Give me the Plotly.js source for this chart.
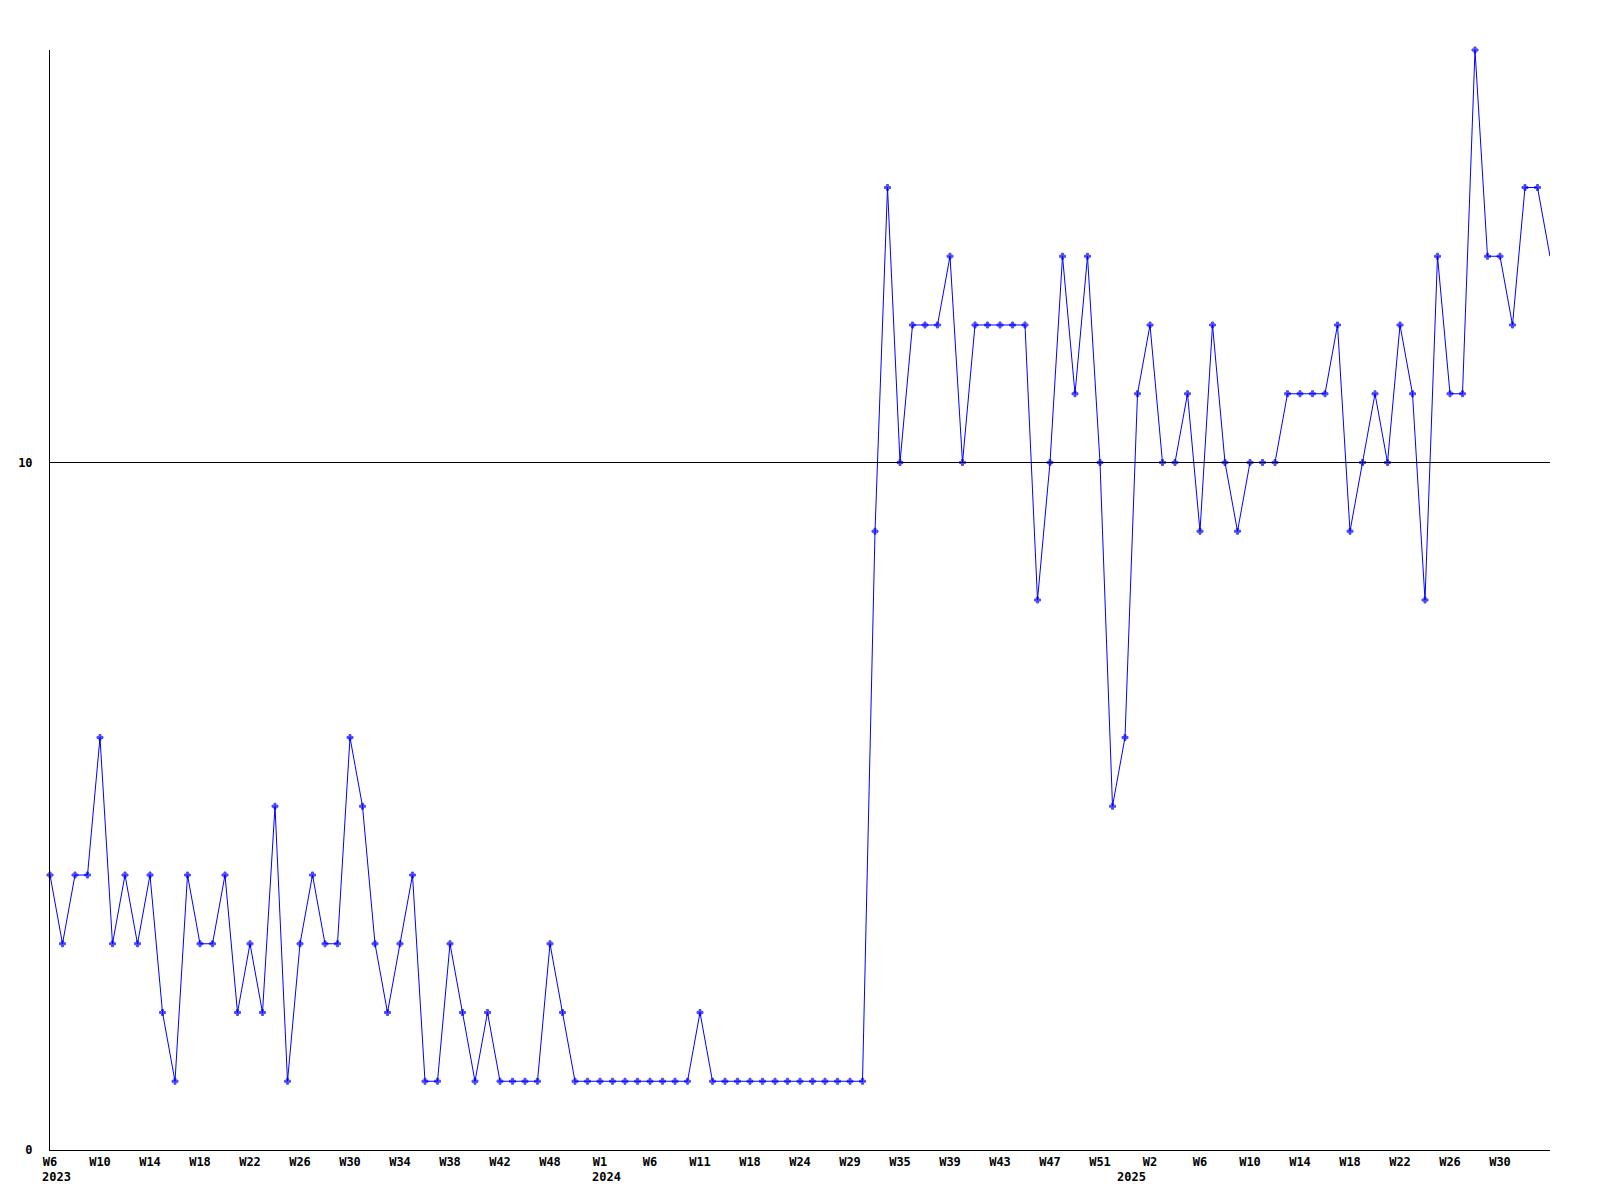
<!DOCTYPE html>
<html>
<head>
<meta charset="utf-8">
<script src="https://cdn.plot.ly/plotly-3.0.1.min.js"></script>
<style>html,body{margin:0;padding:0;background:#fff;}#chart{width:1600px;height:1200px;}</style>
</head>
<body>
<div id="chart"></div>
<script>
// weekly values, 2023 W6 onward
const values = [
  4,3,4,4,6,3,4,3,4,2,
  1,4,3,3,4,2,3,2,5,1,
  3,4,3,3,6,5,3,2,3,4,
  1,1,3,2,1,2,1,1,1,1,
  3,2,1,1,1,1,1,1,1,1,
  1,1,2,1,1,1,1,1,1,1,
  1,1,1,1,1,1,9,14,10,12,
  12,12,13,10,12,12,12,12,12,8,
  10,13,11,13,10,5,6,11,12,10,
  10,11,9,12,10,9,10,10,10,11,
  11,11,11,12,9,10,11,10,12,11,
  8,13,11,11,16,13,13,12,14,14,
  13
];
const weekLabels = ["W6","W10","W14","W18","W22","W26","W30","W34","W38","W42","W48","W1","W6","W11","W18","W24","W29","W35","W39","W43","W47","W51","W2","W6","W10","W14","W18","W22","W26","W30"];
const weekLabelIdx = weekLabels.map((_, k) => k * 4);
const yearLabels = ["2023","2024","2025"];
const yearIdx = [0, 44, 86];
const yTicks = [0, 10];

const xs = values.map((_, i) => i);
const font = {family: "DejaVu Sans Mono, monospace", size: 12, color: "#000", weight: "bold"};

const trace = {
  x: xs, y: values, type: "scatter", mode: "lines+markers",
  line: {color: "#0000ff", width: 1},
  marker: {symbol: "cross", color: "#0000ff",
           size: values.map((_, i) => i === values.length - 1 ? 0 : 5),
           line: {width: 1, color: "#0000ff"}},
  hoverinfo: "x+y", cliponaxis: false
};

const layout = {
  width: 1600, height: 1200,
  margin: {l: 50, r: 50, t: 50, b: 50, pad: 0},
  paper_bgcolor: "#fff", plot_bgcolor: "#fff",
  showlegend: false,
  font: font,
  xaxis: {
    range: [0, values.length - 1], showgrid: false, zeroline: false,
    showline: true, linecolor: "#000", linewidth: 1,
    tickmode: "array", tickvals: weekLabelIdx, ticktext: weekLabels,
    ticks: "", tickfont: font, ticklabelstandoff: 1
  },
  yaxis: {
    range: [0, 16], showgrid: false, zeroline: false,
    showline: true, linecolor: "#000", linewidth: 1,
    tickmode: "array", tickvals: yTicks, ticktext: yTicks.map(String),
    ticks: "", tickfont: font, ticklabelstandoff: 14
  },
  shapes: yTicks.filter(v => v > 0).map(v => ({
    type: "line", xref: "paper", x0: 0, x1: 1, yref: "y", y0: v, y1: v,
    line: {color: "#000", width: 1}, layer: "above"
  })),
  annotations: yearLabels.map((t, k) => ({
    text: t, x: yearIdx[k], xref: "x", xanchor: "left", xshift: -10,
    y: 0, yref: "paper", yanchor: "top", yshift: -18,
    showarrow: false, font: font
  }))
};

Plotly.newPlot("chart", [trace], layout, {staticPlot: true, displayModeBar: false});
</script>
</body>
</html>
